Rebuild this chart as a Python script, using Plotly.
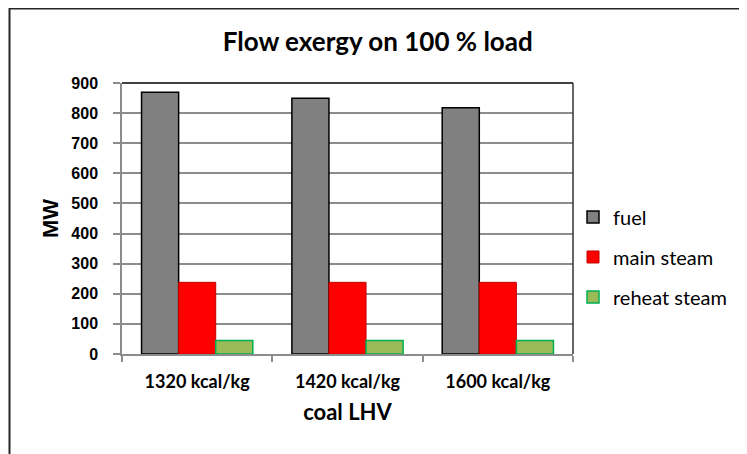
import plotly.graph_objects as go

categories = ["1320 kcal/kg", "1420 kcal/kg", "1600 kcal/kg"]
fuel = [869, 849, 818]
main_steam = [238, 238, 238]
reheat_steam = [45, 45, 45]
y_ticks = [0, 100, 200, 300, 400, 500, 600, 700, 800, 900]

CAL = "Lato, 'Open Sans', sans-serif"
ARI = "'Liberation Sans', Arial, sans-serif"

W, H = 747, 454
L, T, PW, PH = 114, 75, 451, 271  # plot area in figure px (page is offset by 8px)

fig = go.Figure()
fig.add_trace(go.Bar(name="fuel", x=categories, y=fuel,
                     marker=dict(color="#808080", line=dict(color="#000000", width=1.5)),
                     legendgroup="a"))
fig.add_trace(go.Bar(name="main steam", x=categories, y=main_steam,
                     marker=dict(color="#FF0000", line=dict(color="#C00000", width=1)),
                     legendgroup="b"))
fig.add_trace(go.Bar(name="reheat steam", x=categories, y=reheat_steam,
                     marker=dict(color="#9BBB59", line=dict(color="#00B050", width=1.5)),
                     legendgroup="c"))

fig.update_layout(
    width=W, height=H,
    margin=dict(l=L, r=W - L - PW, t=T, b=H - T - PH),
    paper_bgcolor="white", plot_bgcolor="white",
    barmode="group", bargap=0.26, bargroupgap=0,
    title=dict(text="<b>Flow exergy on 100 % load</b>", x=0.495, xanchor="center",
               y=1 - 34 / H, yanchor="middle",
               font=dict(family=CAL, size=26, color="black")),
    legend=dict(x=1.0, y=0.358, xanchor="left", yanchor="middle",
                font=dict(family=CAL, size=20, color="black"),
                tracegroupgap=11, itemwidth=30, bgcolor="rgba(0,0,0,0)"),
    xaxis=dict(
        showline=True, linecolor="#8c8c8c", linewidth=1.5,
        ticks="outside", tickson="boundaries", ticklen=6, tickcolor="#8c8c8c", tickwidth=1.5,
        tickfont=dict(family=CAL, size=18, color="black", weight="bold"),
        ticklabelstandoff=11,
        title=dict(text="<b>coal LHV</b>", font=dict(family=CAL, size=22, color="black"), standoff=13),
        showgrid=False,
    ),
    yaxis=dict(
        range=[0, 900], tickvals=y_ticks,
        tickfont=dict(family=ARI, size=16, color="black", weight="bold"),
        ticklabelstandoff=12,
        showline=True, linecolor="#8c8c8c", linewidth=1.5,
        ticks="outside", ticklen=7, tickcolor="#8c8c8c", tickwidth=1.5,
        showgrid=True, gridcolor="#8c8c8c", gridwidth=1.5,
        title=dict(text="<b>MW</b>", font=dict(family=ARI, size=22, color="black"), standoff=7),
        zeroline=False,
    ),
)

# plot-area top/right black border
fig.add_shape(type="line", xref="paper", yref="paper", x0=0, x1=1, y0=1, y1=1,
              line=dict(color="black", width=1.5))
fig.add_shape(type="line", xref="paper", yref="paper", x0=1, x1=1, y0=0, y1=1,
              line=dict(color="#333333", width=1.5))
# outer chart border (figure x=1, y=0)
fig.add_shape(type="rect", xref="paper", yref="paper",
              x0=(1.5 - L) / PW, x1=(W + 20 - L) / PW,
              y0=-(H + 20 - T - PH) / PH, y1=(T + PH - 0.5) / PH,
              line=dict(color="#262626", width=2), layer="below")

fig.write_html("out.html")
